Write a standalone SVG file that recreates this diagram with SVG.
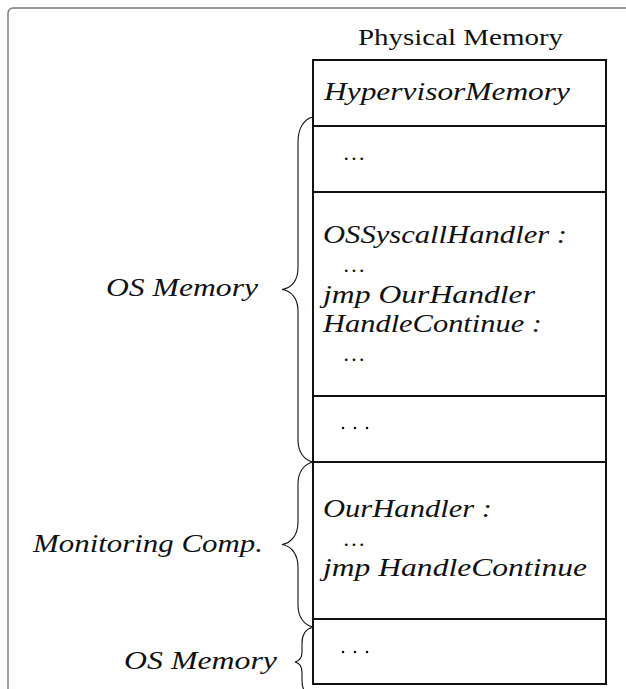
<svg xmlns="http://www.w3.org/2000/svg" width="626" height="689" viewBox="0 0 626 689">
<style>
.t{font-family:"Liberation Serif","DejaVu Serif",serif;font-size:25px;font-style:italic;fill:#111}
.d{font-family:"Liberation Serif","DejaVu Serif",serif;font-size:22px;font-style:italic;fill:#111}
.u{font-family:"Liberation Serif","DejaVu Serif",serif;font-size:24px;fill:#111}
.box{fill:none;stroke:#111;stroke-width:2}
.br{fill:none;stroke:#111;stroke-width:1.1}
</style>
<rect x="8" y="8" width="660" height="720" rx="5" fill="none" stroke="#777" stroke-width="1.4"/>
<text class="u" x="358" y="45" textLength="205" lengthAdjust="spacingAndGlyphs">Physical Memory</text>
<g id="memory">
<rect class="box" x="313" y="60" width="293" height="624"/>
<line class="box" x1="313" y1="126" x2="606" y2="126"/>
<line class="box" x1="313" y1="192" x2="606" y2="192"/>
<line class="box" x1="313" y1="396" x2="606" y2="396"/>
<line class="box" x1="313" y1="462" x2="606" y2="462"/>
<line class="box" x1="313" y1="619" x2="606" y2="619"/>
</g>
<g id="hyp"><text class="t" x="324" y="100" textLength="246" lengthAdjust="spacingAndGlyphs">HypervisorMemory</text></g>
<g id="r2"><text class="d" x="344" y="160" textLength="21">...</text></g>
<g id="r3">
<text class="t" x="323" y="243" textLength="244" lengthAdjust="spacingAndGlyphs">OSSyscallHandler :</text>
<text class="d" x="344" y="272" textLength="21">...</text>
<text class="t" x="323" y="303" textLength="212" lengthAdjust="spacingAndGlyphs">jmp OurHandler</text>
<text class="t" x="323" y="332" textLength="219" lengthAdjust="spacingAndGlyphs">HandleContinue :</text>
<text class="d" x="344" y="361" textLength="21">...</text>
</g>
<g id="r4"><circle cx="343" cy="428" r="1.3" fill="#111"/><circle cx="355" cy="428" r="1.3" fill="#111"/><circle cx="367" cy="428" r="1.3" fill="#111"/></g>
<g id="r5">
<text class="t" x="323" y="517" textLength="169" lengthAdjust="spacingAndGlyphs">OurHandler :</text>
<text class="d" x="344" y="546" textLength="21">...</text>
<text class="t" x="323" y="576" textLength="264" lengthAdjust="spacingAndGlyphs">jmp HandleContinue</text>
</g>
<g id="r6"><circle cx="343" cy="652" r="1.3" fill="#111"/><circle cx="355" cy="652" r="1.3" fill="#111"/><circle cx="367" cy="652" r="1.3" fill="#111"/></g>
<g id="connectors">
<path class="br" d="M313,117 C304,119 298,128 298,142 L298,268 C298,280 292,288 282,289.5 C292,291 298,299 298,311 L298,440 C298,452 304,460 313,462"/>
<path class="br" d="M313,462 C304,464 298,472 298,484 L298,522 C298,534 292,543 282,544.5 C292,546 298,555 298,567 L298,605 C298,617 304,625 313,627"/>
<path class="br" d="M313,627 C306,629 302,635 302,643 L302,652 C302,658 299,661 295,662 C299,663 302,666 302,672 L302,681 C302,689 306,695 313,697"/>
</g>
<g id="lbl1"><text class="t" x="106" y="296" textLength="152" lengthAdjust="spacingAndGlyphs">OS Memory</text></g>
<g id="lbl2"><text class="t" x="33" y="552" textLength="230" lengthAdjust="spacingAndGlyphs">Monitoring Comp.</text></g>
<g id="lbl3"><text class="t" x="124" y="669" textLength="153" lengthAdjust="spacingAndGlyphs">OS Memory</text></g>
</svg>
